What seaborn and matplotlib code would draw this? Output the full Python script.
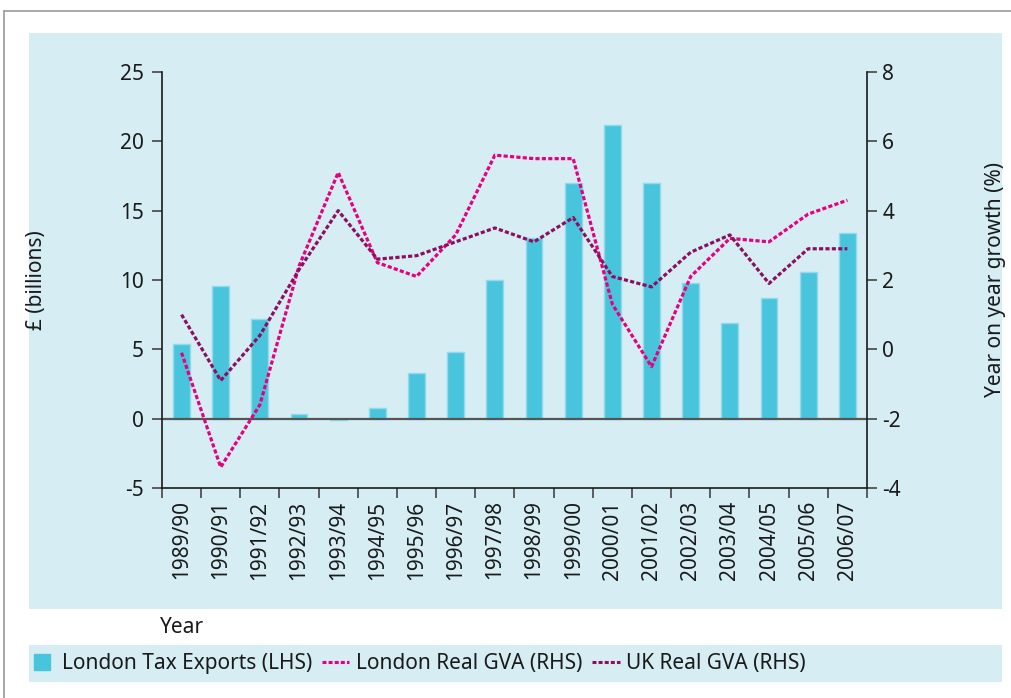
import numpy as np
import pandas as pd
import matplotlib
matplotlib.use("Agg")
import matplotlib.pyplot as plt
import seaborn as sns
from matplotlib.patches import Rectangle
from matplotlib.lines import Line2D

# DATA
years = ["1989/90", "1990/91", "1991/92", "1992/93", "1993/94", "1994/95",
         "1995/96", "1996/97", "1997/98", "1998/99", "1999/00", "2000/01",
         "2001/02", "2002/03", "2003/04", "2004/05", "2005/06", "2006/07"]
tax_exports = [5.4, 9.6, 7.2, 0.3, -0.1, 0.8, 3.3, 4.8, 10.0, 13.0,
               17.0, 21.2, 17.0, 9.8, 6.9, 8.7, 10.6, 13.4]
london_gva = [-0.1, -3.4, -1.6, 2.4, 5.1, 2.5, 2.1, 3.3, 5.6, 5.5,
              5.5, 1.3, -0.5, 2.1, 3.2, 3.1, 3.9, 4.3]
uk_gva = [1.0, -0.9, 0.4, 2.3, 4.0, 2.6, 2.7, 3.1, 3.5, 3.1,
          3.8, 2.1, 1.8, 2.8, 3.3, 1.9, 2.9, 2.9]

df = pd.DataFrame({"year": years, "pos": np.arange(len(years)),
                   "exports": tax_exports, "london": london_gva, "uk": uk_gva})

# COLOURS
BG = "#d5edf3"
BAR = "#48c5dd"
PINK = "#e6007e"
PURPLE = "#8c0f5f"
INK = "#1a1a1a"
DASH = (0, (1.3, 0.7))

# CONFIG
sns.set_style("ticks")
plt.rcParams["font.family"] = ["Noto Sans", "DejaVu Sans"]
plt.rcParams["font.size"] = 15
plt.rcParams["axes.unicode_minus"] = False
plt.rcParams["text.color"] = INK
plt.rcParams["axes.labelcolor"] = INK
plt.rcParams["xtick.color"] = "#444444"
plt.rcParams["ytick.color"] = "#444444"
plt.rcParams["xtick.labelcolor"] = INK
plt.rcParams["ytick.labelcolor"] = INK

fig = plt.figure(figsize=(10.11, 6.98), dpi=100)

# page frame + light blue panels
fig.patches.append(Rectangle((0.0287, 0.1275), 0.962, 0.8255, transform=fig.transFigure,
                             facecolor=BG, edgecolor="none", zorder=-10))
fig.patches.append(Rectangle((0.0287, 0.0225), 0.962, 0.0535, transform=fig.transFigure,
                             facecolor=BG, edgecolor="none", zorder=-10))
fig.lines.append(Line2D([0.004, 0.004], [0.0, 0.984], transform=fig.transFigure,
                        color="#999999", lw=1.2))
fig.lines.append(Line2D([0.004, 1.0], [0.984, 0.984], transform=fig.transFigure,
                        color="#999999", lw=1.2))

ax = fig.add_axes([0.1602, 0.3009, 0.6973, 0.596])
ax.set_facecolor("none")

# BARS (LHS)
sns.barplot(data=df, x="year", y="exports", color=BAR, saturation=1, width=0.43,
            edgecolor="#92d9e9", linewidth=1, ax=ax)
ax.axhline(0, color="#555555", lw=1.6, zorder=1)
ax.set_ylim(-5, 25)
ax.set_yticks(range(-5, 26, 5))
ax.set_xlim(-0.5, len(years) - 0.5)
ax.set_xticks(np.arange(len(years) + 1) - 0.5, minor=True)
ax.tick_params(axis="x", which="major", length=0, pad=9, rotation=90)
ax.tick_params(axis="x", which="minor", length=7, width=1.2)
ax.tick_params(axis="y", length=7, width=1.2, pad=6)
ax.set_xlabel("")
ax.set_ylabel("£ (billions)")
ax.yaxis.set_label_coords(-0.163, 0.5)
for s in ["top", "right"]:
    ax.spines[s].set_visible(False)
for s in ["left", "bottom"]:
    ax.spines[s].set_color(INK)
    ax.spines[s].set_linewidth(1.2)

# LINES (RHS)
ax2 = ax.twinx()
sns.lineplot(data=df, x="pos", y="london", color=PINK, lw=2.3,
             linestyle=DASH, ax=ax2, legend=False)
sns.lineplot(data=df, x="pos", y="uk", color=PURPLE, lw=2.3,
             linestyle=DASH, ax=ax2, legend=False)
ax2.set_xlim(-0.5, len(years) - 0.5)
ax2.set_ylim(-4, 8)
ax2.set_yticks(range(-4, 9, 2))
ax2.tick_params(axis="y", length=7, width=1.2, pad=4)
ax2.set_ylabel("Year on year growth (%)")
ax2.yaxis.set_label_coords(1.167, 0.5)
for s in ["top", "left", "bottom"]:
    ax2.spines[s].set_visible(False)
ax2.spines["right"].set_color(INK)
ax2.spines["right"].set_linewidth(1.2)

fig.text(0.158, 0.1017, "Year", va="center", ha="left")

# LEGEND
handles = [
    Line2D([], [], color=BAR, marker="s", markersize=11, linestyle="none"),
    Line2D([], [], color=PINK, lw=2.2, linestyle=DASH),
    Line2D([], [], color=PURPLE, lw=2.2, linestyle=DASH),
]
labels = ["London Tax Exports (LHS)", "London Real GVA (RHS)", "UK Real GVA (RHS)"]
fig.legend(handles, labels, ncol=3, loc="center left", bbox_to_anchor=(0.028, 0.049),
           frameon=False, handlelength=1.3, handletextpad=0.3, columnspacing=0.5,
           borderaxespad=0, borderpad=0)

fig.savefig("out.png", dpi=100)
